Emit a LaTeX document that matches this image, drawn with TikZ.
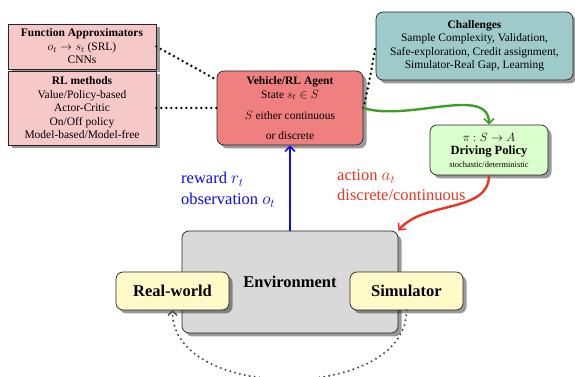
\documentclass[tikz,border=0pt]{standalone}
\usepackage{fontspec}
\setmainfont{Liberation Serif}
\usetikzlibrary{shadows,arrows.meta}
\definecolor{pinkbox}{RGB}{246,200,200}
\definecolor{agentc}{RGB}{240,128,128}
\definecolor{chalc}{RGB}{158,202,202}
\definecolor{drivec}{RGB}{218,255,204}
\definecolor{envc}{RGB}{217,217,217}
\definecolor{yelc}{RGB}{255,250,200}
\definecolor{bluec}{RGB}{10,10,250}
\definecolor{redc}{RGB}{236,52,36}
\definecolor{greenc}{RGB}{60,160,40}
\begin{document}
\begin{tikzpicture}[x=1pt,y=1pt,
  box/.style={draw=black!85, line width=0.7pt, align=center, inner sep=0pt,
    font=\fontsize{11.5}{13.5}\selectfont,
    drop shadow={shadow xshift=3.5pt, shadow yshift=-3.5pt, fill=black, opacity=0.4}},
  rbox/.style={box, rounded corners=7pt},
  bigbold/.style={font=\fontsize{16.5}{19}\selectfont\bfseries},
  dotline/.style={line width=2.7pt, dash pattern=on 0pt off 5pt, line cap=round},
  barb/.style={-{Straight Barb[length=5pt,width=10pt,line width=1.6pt]}},
  lab/.style={anchor=base west, inner sep=0pt, font=\fontsize{16.5}{19}\selectfont},
]
\useasboundingbox (0,0) rectangle (575,377);

\node[box, fill=pinkbox, minimum width=148pt, minimum height=45pt] (fa) at (82,330.5)
  {\textbf{Function Approximators}\\$o_t\rightarrow s_t$ (SRL)\\CNNs};
\node[box, fill=pinkbox, minimum width=148pt, minimum height=74pt] (rl) at (82,269)
  {\textbf{RL methods}\\Value/Policy-based\\Actor-Critic\\On/Off policy\\Model-based/Model-free};
\node[rbox, fill=agentc, minimum width=146pt, minimum height=74pt] (agent) at (290,269)
  {\textbf{Vehicle/RL Agent}\\State $s_t\in S$\\[7.5pt]$S$ either continuous\\[6.5pt]or discrete};
\node[rbox, fill=chalc, minimum width=197pt, minimum height=68pt] (chal) at (474.5,331)
  {\textbf{Challenges}\\Sample Complexity, Validation,\\Safe-exploration, Credit assignment,\\Simulator-Real Gap, Learning};
\node[rbox, fill=drivec, minimum width=118pt, minimum height=50pt] (dp) at (489,227)
  {$\pi:S\rightarrow A$\\{\fontsize{12.5}{14}\selectfont\bfseries Driving Policy}\\[-1pt]{\fontsize{8.4}{10}\selectfont stochastic/deterministic}};
\node[rbox, fill=envc, minimum width=216pt, minimum height=102pt, bigbold] (env) at (290,95)
  {Environment};
\node[rbox, fill=yelc, minimum width=113pt, minimum height=38pt, bigbold] (rw) at (172.5,86)
  {Real-world};
\node[rbox, fill=yelc, minimum width=113pt, minimum height=38pt, bigbold] (sim) at (406.5,86)
  {Simulator};

\node[lab, text=bluec] (rew) at (181,193) {reward $r_t$};
\node[lab, text=bluec] (obs) at (181,172) {observation $o_t$};
\node[lab, text=redc] (act) at (337,196) {action $a_t$};
\node[lab, text=redc] (dc) at (337,176) {discrete/continuous};

\draw[dotline] (fa.east) -- (agent.159);
\draw[dotline] (rl.east) -- (agent.west);
\draw[dotline] (agent.east) .. controls +(6,25) and +(-4,-22) .. (chal.west);

\draw[barb, draw=greenc, line width=2.4pt] (agent.east) .. controls +(45,-14) and +(0,40) .. (dp.north);
\draw[barb, draw=redc, line width=2.4pt] (dp.south) .. controls +(0,-38) and +(25,30) .. (env.north east);
\draw[barb, draw=bluec, line width=2.6pt] (env.north) -- (agent.south);

\draw[draw=black!70, line width=2.3pt, dash pattern=on 0pt off 5pt, line cap=round,
  -{Straight Barb[length=4pt,width=9pt,line width=1.4pt]}]
  (sim.south) .. controls +(0,-92) and +(0,-92) .. (rw.south);
\end{tikzpicture}
\end{document}
